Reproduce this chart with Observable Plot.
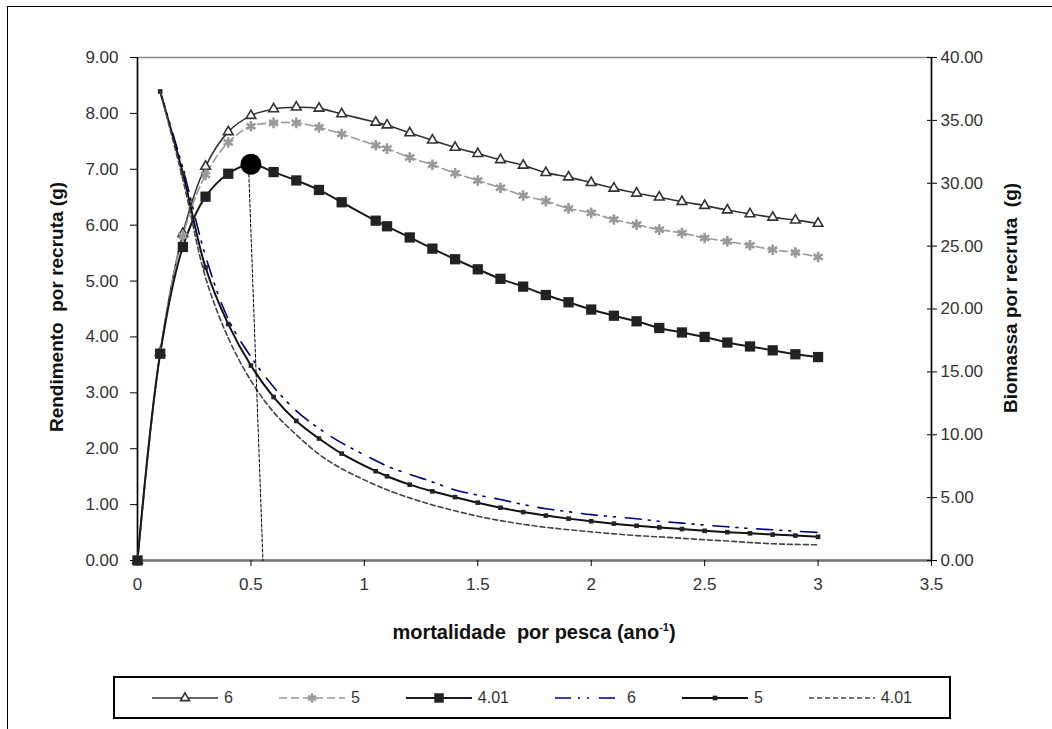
<!DOCTYPE html>
<html>
<head>
<meta charset="utf-8">
<script src="https://cdn.jsdelivr.net/npm/d3@7"></script>
<script src="https://cdn.jsdelivr.net/npm/@observablehq/plot@0.6"></script>
<style>
  html, body { margin: 0; padding: 0; background: #fff; }
  body { width: 1052px; height: 729px; position: relative; overflow: hidden; font-family: "Liberation Sans", Arial, sans-serif; }
  #frame { position: absolute; left: 7px; top: 6px; width: 1100px; height: 800px; border-left: 1.5px solid #000; border-top: 1.5px solid #000; }
  #chart { position: absolute; left: 0; top: 0; }
  .ttl { position: absolute; font-weight: bold; font-size: 19px; color: #111; white-space: pre; }
  #ytitle { left: 57px; top: 307px; transform: translate(-50%, -50%) rotate(-90deg); }
  #y2title { left: 1011px; top: 298px; transform: translate(-50%, -50%) rotate(-90deg); }
  #xtitle { left: 534px; top: 632px; transform: translate(-50%, -50%); font-size: 20px; }
  #xtitle sup { font-size: 11px; }
  #legend { position: absolute; left: 113px; top: 676px; width: 834px; height: 39px; border: 2px solid #000;
            display: flex; align-items: center; justify-content: center; gap: 46px; }
  .item { display: flex; align-items: center; gap: 6px; font-size: 16px; color: #333; }
  .item svg { display: block; }
</style>
</head>
<body>
<div id="frame"></div>
<div id="chart"></div>
<div class="ttl" id="ytitle">Rendimento  por recruta (g)</div>
<div class="ttl" id="y2title">Biomassa por recruta  (g)</div>
<div class="ttl" id="xtitle">mortalidade  por pesca (ano<sup>-1</sup>)</div>
<div id="legend"></div>
<script>
// Fishing mortality values (x)
const F = [0, 0.1, 0.2, 0.3, 0.4, 0.5, 0.6, 0.7, 0.8, 0.9, 1.05, 1.1, 1.2, 1.3, 1.4, 1.5, 1.6, 1.7, 1.8, 1.9, 2.0, 2.1, 2.2, 2.3, 2.4, 2.5, 2.6, 2.7, 2.8, 2.9, 3.0];

// Yield per recruit (left axis)
const ypr6   = [0, 3.72, 5.85, 7.05, 7.67, 7.96, 8.08, 8.11, 8.09, 7.99, 7.84, 7.79, 7.65, 7.52, 7.39, 7.28, 7.17, 7.07, 6.94, 6.86, 6.76, 6.66, 6.57, 6.50, 6.42, 6.35, 6.27, 6.20, 6.14, 6.09, 6.03];
const ypr5   = [0, 3.71, 5.81, 6.90, 7.48, 7.77, 7.83, 7.83, 7.75, 7.63, 7.43, 7.37, 7.21, 7.08, 6.93, 6.80, 6.67, 6.53, 6.43, 6.30, 6.22, 6.10, 6.01, 5.92, 5.86, 5.77, 5.71, 5.64, 5.56, 5.51, 5.43];
const ypr401 = [0, 3.70, 5.61, 6.51, 6.92, 7.09, 6.95, 6.80, 6.63, 6.41, 6.08, 5.98, 5.78, 5.58, 5.39, 5.21, 5.04, 4.90, 4.75, 4.62, 4.49, 4.38, 4.28, 4.16, 4.08, 4.00, 3.90, 3.83, 3.76, 3.69, 3.64];

// Biomass per recruit (right axis)
const bpr6   = [null, 37.3, 31.2, 24.2, 19.2, 16.2, 13.8, 11.9, 10.5, 9.35, 7.95, 7.5, 6.85, 6.25, 5.6, 5.2, 4.85, 4.45, 4.12, 3.88, 3.65, 3.48, 3.32, 3.12, 2.97, 2.82, 2.68, 2.55, 2.44, 2.33, 2.23];
const bpr5   = [null, 37.3, 30.8, 23.3, 18.8, 15.5, 13.0, 11.1, 9.7, 8.5, 7.1, 6.7, 6.03, 5.5, 5.04, 4.6, 4.2, 3.85, 3.57, 3.33, 3.12, 2.93, 2.76, 2.63, 2.5, 2.36, 2.25, 2.16, 2.06, 1.98, 1.88];
const bpr401 = [null, 37.3, 30.3, 22.5, 17.7, 14.3, 11.8, 10.0, 8.45, 7.3, 6.0, 5.62, 4.98, 4.42, 3.95, 3.52, 3.17, 2.88, 2.64, 2.45, 2.28, 2.12, 1.98, 1.88, 1.77, 1.65, 1.55, 1.43, 1.33, 1.28, 1.25];

// Ticks
const xTicks = [0, 0.5, 1, 1.5, 2, 2.5, 3, 3.5];
const leftTicks = [0, 1, 2, 3, 4, 5, 6, 7, 8, 9];
const rightTicks = [0, 5, 10, 15, 20, 25, 30, 35, 40];
const legendLabels = ["6", "5", "4.01", "6", "5", "4.01"];

// Annotation: maximum yield point and drop line
const maxPoint = [{F: 0.5, Y: 7.09}];
const dropLine = [{F: 0.49, Y: 7.0}, {F: 0.553, Y: 0}];

const leftMax = 9, rightMax = 40;
const k = leftMax / rightMax;
const rows = (vals, right) => F.map((f, i) => ({F: f, Y: vals[i] == null ? null : (right ? vals[i] * k : vals[i])}))
  .filter(d => d.Y != null);

const sty = {
  ypr6:   {stroke: "#333", strokeWidth: 1.6},
  ypr5:   {stroke: "#999", strokeWidth: 1.6, strokeDasharray: "8,4"},
  ypr401: {stroke: "#1a1a1a", strokeWidth: 2},
  bpr6:   {stroke: "#000080", strokeWidth: 1.6, strokeDasharray: "16,7,2,7,2,10"},
  bpr5:   {stroke: "#111", strokeWidth: 2},
  bpr401: {stroke: "#444", strokeWidth: 1.6, strokeDasharray: "5,3"}
};

const cur = "catmull-rom";
const tickFont = 17;
const chart = Plot.plot({
  width: 1052,
  height: 600,
  marginLeft: 137,
  marginRight: 121,
  marginTop: 57,
  marginBottom: 40,
  style: {fontFamily: "'Liberation Sans', Arial, sans-serif", fontSize: tickFont + "px", color: "#333", background: "transparent"},
  x: {domain: [0, 3.5]},
  y: {domain: [0, leftMax]},
  marks: [
    Plot.frame({stroke: "#888", strokeWidth: 1.5}),
    Plot.ruleY([0], {stroke: "#777", strokeWidth: 2.5}),
    Plot.ruleX([0, 3.5], {stroke: "#000", strokeWidth: 1.5}),
    Plot.axisX(xTicks, {tickSize: 6, tickPadding: 11, label: null, stroke: "#000", fill: "#333", fontSize: tickFont, tickFormat: d => String(d)}),
    Plot.axisY(leftTicks, {anchor: "left", tickSize: 7, tickPadding: 12, label: null, stroke: "#000", fill: "#333", fontSize: tickFont, tickFormat: d => d.toFixed(2)}),
    Plot.axisY(rightTicks.map(v => v * k), {anchor: "right", tickSize: 5, tickPadding: 4, label: null, stroke: "#000", fill: "#333", fontSize: tickFont, tickFormat: d => (d / k).toFixed(2)}),
    Plot.axisY(rightTicks.map(v => v * k), {anchor: "right", tickSize: 5, dx: -5, label: null, stroke: "#000", tickFormat: () => ""}),
    // yield per recruit
    Plot.line(rows(ypr6), {x: "F", y: "Y", curve: cur, ...sty.ypr6}),
    Plot.line(rows(ypr5), {x: "F", y: "Y", curve: cur, ...sty.ypr5}),
    Plot.line(rows(ypr401), {x: "F", y: "Y", curve: cur, ...sty.ypr401}),
    Plot.dot(rows(ypr6), {x: "F", y: "Y", symbol: "triangle", r: 3.6, fill: "#fff", stroke: "#333", strokeWidth: 1.6}),
    Plot.dot(rows(ypr5), {x: "F", y: "Y", symbol: "asterisk", r: 5, stroke: "#999", strokeWidth: 2.6}),
    Plot.dot(rows(ypr401), {x: "F", y: "Y", symbol: "square", r: 5.8, fill: "#222"}),
    // biomass per recruit
    Plot.line(rows(bpr6, true), {x: "F", y: "Y", curve: cur, ...sty.bpr6}),
    Plot.line(rows(bpr5, true), {x: "F", y: "Y", curve: cur, ...sty.bpr5}),
    Plot.dot(rows(bpr5, true), {x: "F", y: "Y", symbol: "square", r: 2.6, fill: "#222"}),
    Plot.line(rows(bpr401, true), {x: "F", y: "Y", curve: cur, ...sty.bpr401}),
    // annotation
    Plot.line(dropLine, {x: "F", y: "Y", stroke: "#000", strokeWidth: 1, strokeDasharray: "3,2"}),
    Plot.dot(maxPoint, {x: "F", y: "Y", r: 10.5, fill: "#000"})
  ]
});
document.getElementById("chart").appendChild(chart);

// Legend swatches
const swatch = [
  {line: sty.ypr6, marker: "tri"},
  {line: sty.ypr5, marker: "ast"},
  {line: sty.ypr401, marker: "sq"},
  {line: sty.bpr6, marker: null},
  {line: sty.bpr5, marker: "sqs"},
  {line: sty.bpr401, marker: null}
];
const legend = document.getElementById("legend");
legendLabels.forEach((lab, i) => {
  const s = swatch[i];
  const item = document.createElement("div");
  item.className = "item";
  const svg = d3.create("svg").attr("width", 66).attr("height", 16);
  svg.append("line").attr("x1", 0).attr("x2", 66).attr("y1", 8).attr("y2", 8)
    .attr("stroke", s.line.stroke).attr("stroke-width", s.line.strokeWidth)
    .attr("stroke-dasharray", s.line.strokeDasharray || null);
  const sym = {tri: d3.symbolTriangle, ast: d3.symbolAsterisk, sq: d3.symbolSquare, sqs: d3.symbolSquare}[s.marker];
  if (sym) {
    const size = {tri: 35, ast: 60, sq: 90, sqs: 22}[s.marker];
    const p = svg.append("path").attr("transform", "translate(33,8)").attr("d", d3.symbol(sym, size)());
    if (s.marker === "tri") p.attr("fill", "#fff").attr("stroke", "#333").attr("stroke-width", 1.6);
    else if (s.marker === "ast") p.attr("fill", "none").attr("stroke", "#999").attr("stroke-width", 2.4);
    else p.attr("fill", "#222");
  }
  item.appendChild(svg.node());
  const t = document.createElement("span");
  t.textContent = lab;
  item.appendChild(t);
  legend.appendChild(item);
});
</script>
</body>
</html>
